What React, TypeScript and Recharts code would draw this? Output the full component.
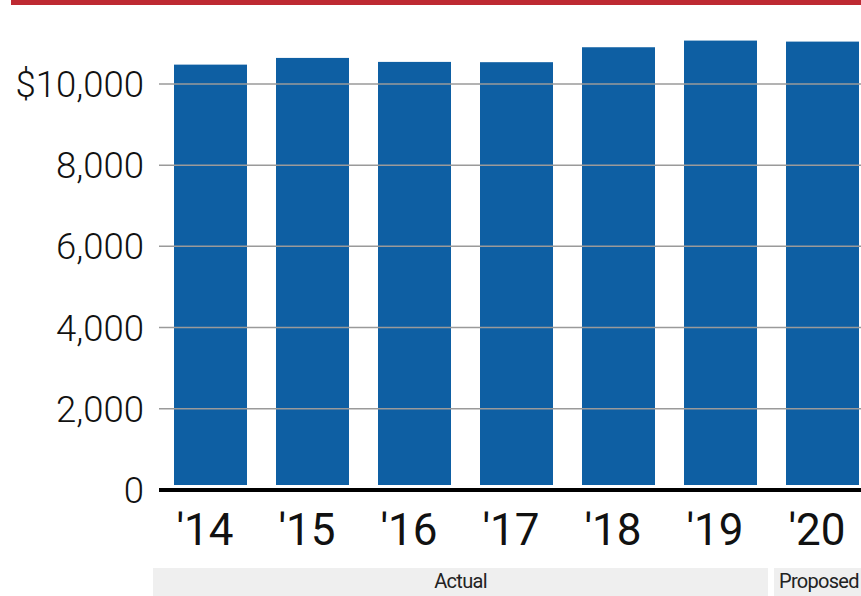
import React from 'react';
import { BarChart, Bar, XAxis, YAxis, ReferenceLine } from 'recharts';

// fiscal years, spending in dollars
const years = ["'14", "'15", "'16", "'17", "'18", "'19", "'20"];
const spending = [10475, 10640, 10542, 10535, 10903, 11067, 11042];
const yTicks = [0, 2000, 4000, 6000, 8000, 10000];

// bottom group bands: label + how many years each covers
const groupLabels = ['Actual', 'Proposed'];
const groupSizes = [6, 1];

const data = years.map((year, i) => ({ year, spending: spending[i] }));

const CHART_W = 900;
const CHART_H = 600;
const Y_AXIS_W = 159;
const MARGIN = { top: 23, right: 27, left: 0, bottom: 0 };
const PLOT_W = CHART_W - Y_AXIS_W - MARGIN.left - MARGIN.right;
const FONT = 'Roboto, sans-serif';

const fmtY = (v: number) => (v === 10000 ? '$' : '') + v.toLocaleString('en-US');

const YearTick = (props: any) => {
    const { x, y, payload } = props;
    return (
        <text x={x - 5} y={y + 55} textAnchor="middle" fontFamily={FONT} fontSize={44} fill="#111">
            {payload.value}
        </text>
    );
};

const GroupTick = (props: any) => {
    const { x, y, index } = props;
    const bw = PLOT_W / years.length;
    let start = 0;
    for (let g = 0; g < groupSizes.length; g++) {
        if (index === start) {
            const x0 = x - bw / 2 + (g === 0 ? -6 : 3);
            const x1 = x - bw / 2 + groupSizes[g] * bw - 3;
            const last = g === groupSizes.length - 1;
            return (
                <g>
                    <rect x={x0} y={y + 8} width={x1 - x0} height={40} fill="#efefef" />
                    <text x={last ? x0 + 5 : (x0 + x1) / 2} y={y + 28} textAnchor={last ? 'start' : 'middle'}
                        fontFamily={FONT} fontSize={20} letterSpacing={-0.7} fill="#222">
                        {groupLabels[g]}
                    </text>
                </g>
            );
        }
        start += groupSizes[g];
    }
    return <g />;
};

const BarShape = (props: any) => {
    const { x, y, width, height } = props;
    return <rect x={x} y={y} width={width} height={Math.max(0, height - 5)} fill="#0e5fa3" />;
};

const App = () => {
    return (
        <div style={{ position: 'fixed', left: 0, top: 0, width: 861, height: 596, overflow: 'hidden', background: '#fff' }}>
            <div style={{ position: 'absolute', left: 11, top: 0, width: 850, height: 5, background: '#be2a32' }} />
            <div style={{ position: 'absolute', left: 0, top: 0 }}>
                <BarChart width={CHART_W} height={CHART_H} data={data} margin={MARGIN}>
                    {yTicks.filter((t) => t > 0).map((t) => (
                        <ReferenceLine key={t} y={t} stroke="#9a9a9a" strokeWidth={1.5} />
                    ))}
                    <YAxis
                        width={Y_AXIS_W}
                        domain={[0, 11500]}
                        ticks={yTicks}
                        tickFormatter={fmtY}
                        axisLine={false}
                        tickLine={false}
                        tickSize={0}
                        tickMargin={15}
                        tick={{ fontFamily: FONT, fontSize: 36.5, fontWeight: 300, fill: '#111' }}
                    />
                    <XAxis
                        dataKey="year"
                        height={70}
                        tickLine={false}
                        tickSize={0}
                        tickMargin={0}
                        axisLine={{ stroke: '#000', strokeWidth: 4 }}
                        tick={<YearTick />}
                        interval={0}
                    />
                    <XAxis
                        xAxisId="group"
                        dataKey="year"
                        height={40}
                        tickLine={false}
                        tickSize={0}
                        tickMargin={0}
                        axisLine={false}
                        tick={<GroupTick />}
                        interval={0}
                    />
                    <Bar dataKey="spending" fill="#0e5fa3" barSize={73} shape={<BarShape />} isAnimationActive={false} />
                </BarChart>
            </div>
        </div>
    );
};

export default App;
